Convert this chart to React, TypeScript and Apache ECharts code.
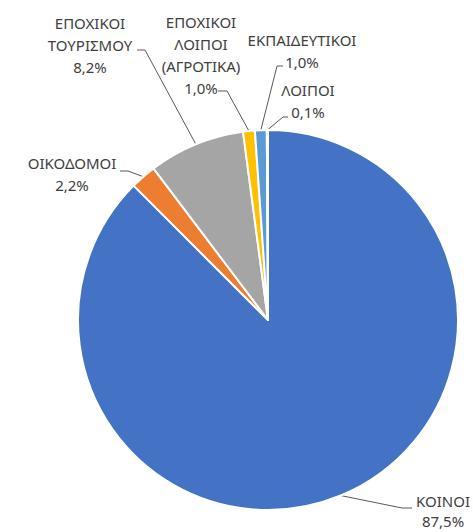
import React, { useEffect, useRef } from "react";
import * as echarts from "echarts";

const categories = [
  "ΚΟΙΝΟΙ",
  "ΟΙΚΟΔΟΜΟΙ",
  "ΕΠΟΧΙΚΟΙ\nΤΟΥΡΙΣΜΟΥ",
  "ΕΠΟΧΙΚΟΙ\nΛΟΙΠΟΙ\n(ΑΓΡΟΤΙΚΑ)",
  "ΕΚΠΑΙΔΕΥΤΙΚΟΙ",
  "ΛΟΙΠΟΙ",
];
const shares = [87.5, 2.2, 8.2, 1.0, 1.0, 0.1];
const colors = ["#4472C4", "#ED7D31", "#A5A5A5", "#FFC000", "#5B9BD5", "#70AD47"];

// layout only: label centres and leader-line elbows/ends
const labelPos: [number, number][] = [
  [443, 511],
  [72, 174],
  [90, 45],
  [201, 55],
  [302, 51],
  [308, 101],
];
const leaderElbow: [number, number][] = [
  [402, 508],
  [128, 171],
  [145, 50],
  [227, 91],
  [277, 66],
  [283, 117],
];
const leaderEnd: [number, number][] = [
  [412, 508],
  [120, 171],
  [137, 50],
  [218, 91],
  [283, 66],
  [288, 117],
];

const CX = 268;
const CY = 320;
const R = 190;

export default function App() {
  const ref = useRef<HTMLDivElement>(null);
  useEffect(() => {
    if (!ref.current) return;
    const chart = echarts.init(ref.current, null, { renderer: "svg" });
    const total = shares.reduce((a, b) => a + b, 0);
    const midAngles: number[] = [];
    let acc = 0;
    shares.forEach((v) => {
      midAngles.push(((acc + v / 2) / total) * Math.PI * 2);
      acc += v;
    });
    chart.setOption({
      animation: false,
      backgroundColor: "#ffffff",
      series: [
        {
          type: "pie",
          center: [CX, CY],
          radius: [0, R],
          startAngle: 90,
          clockwise: true,
          avoidLabelOverlap: false,
          itemStyle: { borderColor: "#ffffff", borderWidth: 2 },
          label: {
            show: true,
            position: "outside",
            color: "#404040",
            fontFamily: "Noto Sans",
            fontSize: 15,
            lineHeight: 22,
            align: "center",
            formatter: (p: any) =>
              p.name + "\n" + p.value.toFixed(1).replace(".", ",") + "%",
          },
          labelLine: {
            show: true,
            smooth: false,
            length: 10,
            length2: 10,
            lineStyle: { color: "#595959", width: 1 },
          },
          labelLayout: (params: any) => {
            const i = params.dataIndex;
            const a = midAngles[i];
            const sx = CX + R * Math.sin(a);
            const sy = CY - R * Math.cos(a);
            return {
              x: labelPos[i][0],
              y: labelPos[i][1],
              align: "center",
              verticalAlign: "middle",
              labelLinePoints: [[sx, sy], leaderElbow[i], leaderEnd[i]],
            };
          },
          data: categories.map((name, i) => ({
            name,
            value: shares[i],
            itemStyle: { color: colors[i] },
            label: i === 0 ? { lineHeight: 20 } : undefined,
          })),
        },
      ],
    });
    return () => chart.dispose();
  }, []);
  return (
    <div
      ref={ref}
      style={{ position: "fixed", left: 0, top: 0, width: 473, height: 532 }}
    />
  );
}
